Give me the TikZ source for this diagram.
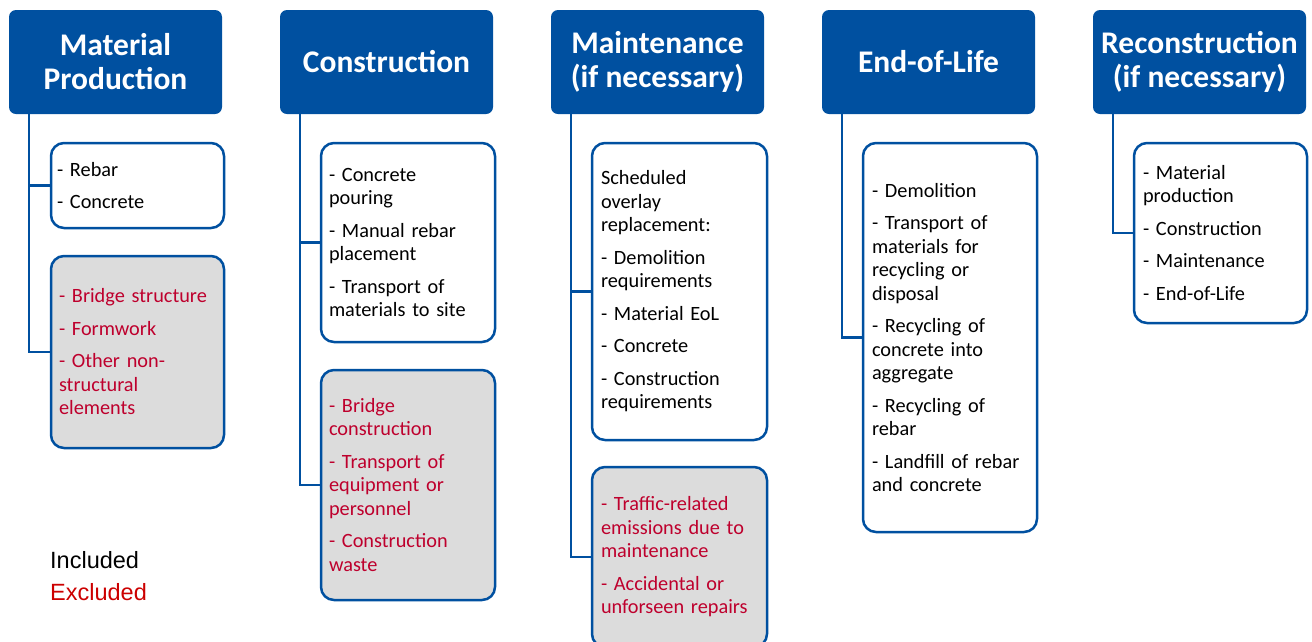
\documentclass[tikz,border=0pt]{standalone}
\usepackage{fontspec}
\setmainfont{Carlito}
\newfontfamily\legendfont{Liberation Sans}
\definecolor{hdrblue}{RGB}{0,80,160}
\definecolor{exgray}{RGB}{220,220,220}
\definecolor{exred}{RGB}{190,0,45}
\definecolor{legred}{RGB}{204,0,0}
\begin{document}
\begin{tikzpicture}[x=1pt,y=-1pt,
  hdr/.style={draw=none,fill=hdrblue,rounded corners=7pt,minimum width=213pt,minimum height=104pt,
    inner sep=0pt,align=center,text=white,font=\fontsize{31.5}{34}\selectfont\bfseries},
  basebox/.style={draw=hdrblue,line width=2.5pt,rounded corners=13pt,inner xsep=8pt,inner ysep=0pt,
    align=left,font=\fontsize{20.3}{23.5}\selectfont},
  incbox/.style={basebox,fill=white,text=black},
  excbox/.style={basebox,fill=exgray,text=exred},
  conn/.style={draw=hdrblue,line width=2.5pt},
  legend/.style={anchor=base west,inner sep=0pt,font=\legendfont\fontsize{23.5}{28}\selectfont}
]
\useasboundingbox (0,0) rectangle (1312,641);

% headers
\node[hdr] (h1) at (115.5,62) {Material\\Production};
\node[hdr] (h2) at (386.5,62) {Construction};
\node[hdr] (h3) at (657.5,62) {Maintenance\\(if necessary)};
\node[hdr] (h4) at (928.5,62) {End-of-Life};
\node[hdr] (h5) at (1199.5,62) {Reconstruction\\(if necessary)};

% trunk start points
\coordinate (t1) at ([xshift=20pt]h1.south west);
\coordinate (t2) at ([xshift=20pt]h2.south west);
\coordinate (t3) at ([xshift=20pt]h3.south west);
\coordinate (t4) at ([xshift=20pt]h4.south west);
\coordinate (t5) at ([xshift=20pt]h5.south west);

% column 1
\node[incbox,minimum width=173pt,minimum height=85pt,inner xsep=6pt,text width=161pt] (b1a) at (137.5,185.5)
  {- Rebar\\[9pt]- Concrete};
\node[excbox,minimum width=173pt,text width=157pt,minimum height=192pt] (b1b) at (137.5,352)
  {- Bridge structure\\[9pt]- Formwork\\[9pt]- Other non-\\structural\\elements};

% column 2
\node[incbox,minimum width=174pt,text width=158pt,minimum height=199pt] (b2a) at (408,242.5)
  {- Concrete\\pouring\\[9pt]- Manual rebar\\placement\\[9pt]- Transport of\\materials to site};
\node[excbox,minimum width=174pt,text width=158pt,minimum height=230pt] (b2b) at (408,485)
  {- Bridge\\construction\\[9pt]- Transport of\\equipment or\\personnel\\[9pt]- Construction\\waste};

% column 3
\node[incbox,minimum width=175pt,text width=157pt,minimum height=297pt,inner xsep=9pt] (b3a) at (679.5,291.5)
  {Scheduled\\overlay\\replacement:\\[9pt]- Demolition\\requirements\\[9pt]- Material EoL\\[9pt]- Concrete\\[9pt]- Construction\\requirements};
\node[excbox,minimum width=175pt,text width=157pt,minimum height=180pt,inner xsep=9pt] (b3b) at (679.5,557)
  {- Traffic-related\\emissions due to\\maintenance\\[9pt]- Accidental or\\unforseen repairs};

% column 4
\node[incbox,minimum width=174pt,text width=156pt,minimum height=389pt,inner xsep=9pt] (b4a) at (950,337.5)
  {- Demolition\\[9pt]- Transport of\\materials for\\recycling or\\disposal\\[9pt]- Recycling of\\concrete into\\aggregate\\[9pt]- Recycling of\\rebar\\[9pt]- Landfill of rebar\\and concrete};

% column 5
\node[incbox,minimum width=173pt,text width=155pt,minimum height=180pt,inner xsep=9pt] (b5a) at (1220.5,233)
  {- Material\\production\\[9pt]- Construction\\[9pt]- Maintenance\\[9pt]- End-of-Life};

% connectors
\draw[conn] (t1) |- (b1a.west);
\draw[conn] (t1) |- (b1b.west);
\draw[conn] (t2) |- (b2a.west);
\draw[conn] (t2) |- (b2b.west);
\draw[conn] (t3) |- (b3a.west);
\draw[conn] (t3) |- (b3b.west);
\draw[conn] (t4) |- (b4a.west);
\draw[conn] (t5) |- (b5a.west);

% legend
\node[legend,text=black] (linc) at (50,568) {Included};
\node[legend,text=legred] (lexc) at (50,600) {Excluded};
\end{tikzpicture}
\end{document}
